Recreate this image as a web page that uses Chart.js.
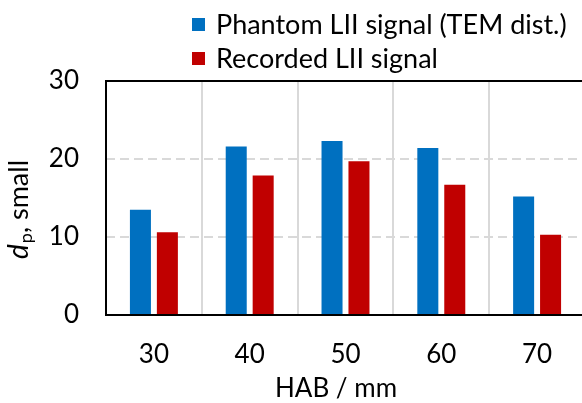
<!DOCTYPE html>
<html lang="en">
<head>
    <meta charset="UTF-8">
    <title>dp small vs HAB</title>
    <script src="https://cdn.jsdelivr.net/npm/chart.js"></script>
    <style>
        html, body {
            margin: 0;
            padding: 0;
            background: #ffffff;
            overflow: hidden;
        }
        #wrap {
            width: 582px;
            height: 403px;
            overflow: hidden;
        }
    </style>
</head>
<body>
    <div id="wrap">
        <canvas id="dpChart" width="590" height="403"></canvas>
    </div>

    <script>
        // values
        const hab = ['30', '40', '50', '60', '70'];
        const phantom = [13.5, 21.6, 22.3, 21.4, 15.2];
        const recorded = [10.6, 17.9, 19.7, 16.7, 10.3];
        const yTicks = [0, 10, 20, 30];

        const FONT = 'Lato, "Open Sans", sans-serif';

        // frame lines, legend and axis titles
        const extras = {
            id: 'extras',
            afterDatasetsDraw(chart) {
                const { ctx, chartArea: a } = chart;
                ctx.save();
                ctx.strokeStyle = '#000';
                ctx.lineWidth = 2;
                ctx.beginPath();
                ctx.moveTo(a.left, a.top);
                ctx.lineTo(a.right, a.top);
                ctx.moveTo(a.left, a.top - 1);
                ctx.lineTo(a.left, a.bottom + 1);
                ctx.moveTo(a.left, a.bottom);
                ctx.lineTo(a.right, a.bottom);
                ctx.stroke();
                ctx.restore();
            },
            afterDraw(chart) {
                const { ctx } = chart;
                ctx.save();
                ctx.fillStyle = '#000';

                // legend
                const rows = [25, 59];
                chart.data.datasets.forEach((ds, i) => {
                    ctx.fillStyle = ds.backgroundColor;
                    ctx.fillRect(192, rows[i] - 7, 13, 13);
                    ctx.fillStyle = '#000';
                    ctx.font = '27px ' + FONT;
                    ctx.textBaseline = 'middle';
                    ctx.textAlign = 'left';
                    ctx.fillText(ds.label, 216, rows[i]);
                });

                // x title
                ctx.font = '26px ' + FONT;
                ctx.textAlign = 'center';
                ctx.textBaseline = 'middle';
                ctx.fillText('HAB / mm', 336, 389);

                // y title: d (italic), subscript p, ", small"
                ctx.translate(19, 210);
                ctx.rotate(-Math.PI / 2);
                ctx.textAlign = 'left';
                ctx.textBaseline = 'middle';
                const f1 = 'italic 28px ' + FONT;
                const f2 = '18px ' + FONT;
                const f3 = '27px ' + FONT;
                ctx.font = f1; const w1 = ctx.measureText('d').width;
                ctx.font = f2; const w2 = ctx.measureText('p').width;
                ctx.font = f3; const w3 = ctx.measureText(', small').width;
                let x = -(w1 + w2 + w3) / 2;
                ctx.font = f1; ctx.fillText('d', x, 0); x += w1 + 1;
                ctx.font = f2; ctx.fillText('p', x, 7); x += w2;
                ctx.font = f3; ctx.fillText(', small', x, 0);
                ctx.restore();
            }
        };

        const ctx = document.getElementById('dpChart').getContext('2d');
        const chart = new Chart(ctx, {
            type: 'bar',
            data: {
                labels: hab,
                datasets: [{
                    label: 'Phantom LII signal (TEM dist.)',
                    data: phantom,
                    backgroundColor: '#0070C0',
                    categoryPercentage: 0.5625,
                    barPercentage: 0.78
                }, {
                    label: 'Recorded LII signal',
                    data: recorded,
                    backgroundColor: '#C00000',
                    categoryPercentage: 0.5625,
                    barPercentage: 0.78
                }]
            },
            options: {
                responsive: false,
                animation: false,
                devicePixelRatio: 1,
                layout: { padding: { top: 81, right: 5, left: 0, bottom: 0 } },
                plugins: {
                    legend: { display: false },
                    tooltip: { enabled: false }
                },
                scales: {
                    x: {
                        afterFit: s => { s.height = 88; },
                        grid: { color: '#d9d9d9', lineWidth: 2, drawTicks: false },
                        border: { display: false },
                        ticks: {
                            color: '#000',
                            padding: 24,
                            font: { family: FONT, size: 26 }
                        }
                    },
                    y: {
                        min: 0,
                        max: 30,
                        afterFit: s => { s.width = 106; },
                        afterBuildTicks: s => { s.ticks = yTicks.map(v => ({ value: v })); },
                        grid: {
                            color: c => (c.tick && (c.tick.value === 10 || c.tick.value === 20)) ? '#d9d9d9' : 'rgba(0,0,0,0)',
                            lineWidth: 2,
                            drawTicks: false
                        },
                        border: { display: false, dash: [9, 5] },
                        ticks: {
                            color: '#000',
                            padding: 27,
                            font: { family: FONT, size: 26 }
                        }
                    }
                }
            },
            plugins: [extras]
        });
    </script>
</body>
</html>
